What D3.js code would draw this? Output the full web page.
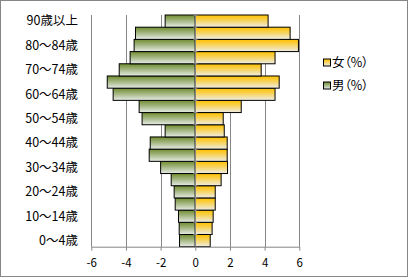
<!DOCTYPE html>
<html><head><meta charset="utf-8">
<script src="https://cdn.jsdelivr.net/npm/d3@7"></script>
<style>body{margin:0;background:#fff}svg{display:block}text{font-family:"Noto Sans CJK JP","Noto Sans",sans-serif}</style>
</head><body>
<script>
const categories = ["0～4歳","5～9歳","10～14歳","15～19歳","20～24歳","25～29歳","30～34歳","35～39歳","40～44歳","45～49歳","50～54歳","55～59歳","60～64歳","65～69歳","70～74歳","75～79歳","80～84歳","85～89歳","90歳以上"];
const shownLabels = ["0～4歳","10～14歳","20～24歳","30～34歳","40～44歳","50～54歳","60～64歳","70～74歳","80～84歳","90歳以上"];
const female = [0.86,0.97,1.03,1.15,1.15,1.49,1.86,1.84,1.84,1.67,1.61,2.65,4.6,4.84,3.8,4.6,5.95,5.47,4.2];
const male = [0.91,0.93,0.97,1.16,1.22,1.39,2.0,2.66,2.6,1.74,3.07,3.24,4.74,5.08,4.39,3.76,3.53,3.45,1.74];
const xTicks = [-6,-4,-2,0,2,4,6];
const seriesNames = ["女（%）","男（%）"];

const W=409,H=278;
const svg=d3.select("body").append("svg").attr("width",W).attr("height",H);
const defs=svg.append("defs");
function grad(id,stops){const g=defs.append("linearGradient").attr("id",id).attr("x1",0).attr("y1",0).attr("x2",0).attr("y2",1);
  stops.forEach(s=>g.append("stop").attr("offset",s[0]).attr("stop-color",s[1]));}
grad("gF",[[0,"#FFC000"],[0.35,"#F9CF45"],[1,"#EEEDE6"]]);
grad("gM",[[0,"#6F8D2D"],[0.4,"#9DB077"],[1,"#E6ECE6"]]);

svg.append("rect").attr("x",0.5).attr("y",0.5).attr("width",W-2).attr("height",H-2).attr("fill","#fff").attr("stroke","#868686");

const x=d3.scaleLinear().domain([-6,6]).range([91.3,299.3]);
const y=d3.scaleBand().domain(categories).range([246.7,15]).padding(0);

// gridlines
svg.append("g").selectAll("line").data(xTicks.filter(t=>t!==0)).join("line")
 .attr("x1",d=>Math.round(x(d))+0.5).attr("x2",d=>Math.round(x(d))+0.5).attr("y1",15).attr("y2",246.7)
 .attr("stroke","#868686").attr("stroke-width",1);

// bars
svg.append("g").selectAll("rect").data(categories).join("rect")
 .attr("x",(d,i)=>x(-male[i])).attr("width",(d,i)=>x(0)-x(-male[i]))
 .attr("y",d=>y(d)).attr("height",y.bandwidth())
 .attr("fill","url(#gM)").attr("stroke","#000").attr("stroke-width",1);
svg.append("g").selectAll("rect").data(categories).join("rect")
 .attr("x",x(0)).attr("width",(d,i)=>x(female[i])-x(0))
 .attr("y",d=>y(d)).attr("height",y.bandwidth())
 .attr("fill","url(#gF)").attr("stroke","#000").attr("stroke-width",1);

// zero axis with minor ticks
const x0=Math.round(x(0))+0.5;
svg.append("line").attr("x1",x0).attr("x2",x0).attr("y1",15).attr("y2",246.7).attr("stroke","#868686");
const bounds=categories.map(c=>y(c)).concat([15]);
svg.append("g").selectAll("line").data(bounds).join("line")
 .attr("x1",x0-2).attr("x2",x0+2).attr("y1",d=>d).attr("y2",d=>d).attr("stroke","#868686");

// bottom axis
const xAxis=d3.axisBottom(x).tickValues(xTicks).tickSize(4).tickSizeOuter(0).tickFormat(d3.format("d"));
const ga=svg.append("g").attr("transform","translate(0,246.7)").call(xAxis);
ga.select(".domain").attr("stroke","#868686");
ga.selectAll(".tick line").attr("stroke","#868686");
ga.selectAll(".tick text").attr("font-size",11.5).attr("fill","#000").attr("dy","1.2em")
 .attr("font-family","'Noto Sans CJK JP',sans-serif").text(d=>d<0?"-"+Math.abs(d):d);

// category labels
svg.append("g").selectAll("text").data(shownLabels).join("text")
 .attr("x",78).attr("y",d=>y(d)+y.bandwidth()/2).attr("dy","0.35em")
 .attr("text-anchor","end").attr("font-size",12.5).attr("fill","#000").text(d=>d);

// legend
const lg=svg.append("g");
const lgY=[62.5,85.5];
const lgFill=["url(#gF)","url(#gM)"];
seriesNames.forEach((n,i)=>{
  lg.append("rect").attr("x",323.5).attr("y",lgY[i]-3.5).attr("width",7).attr("height",7).attr("fill",lgFill[i]).attr("stroke","#000");
  lg.append("text").attr("x",332).attr("y",lgY[i]).attr("dy","0.35em").attr("font-size",12.5)
   .style("font-feature-settings","'palt'").attr("fill","#000").text(n);
});
</script>
</body></html>
